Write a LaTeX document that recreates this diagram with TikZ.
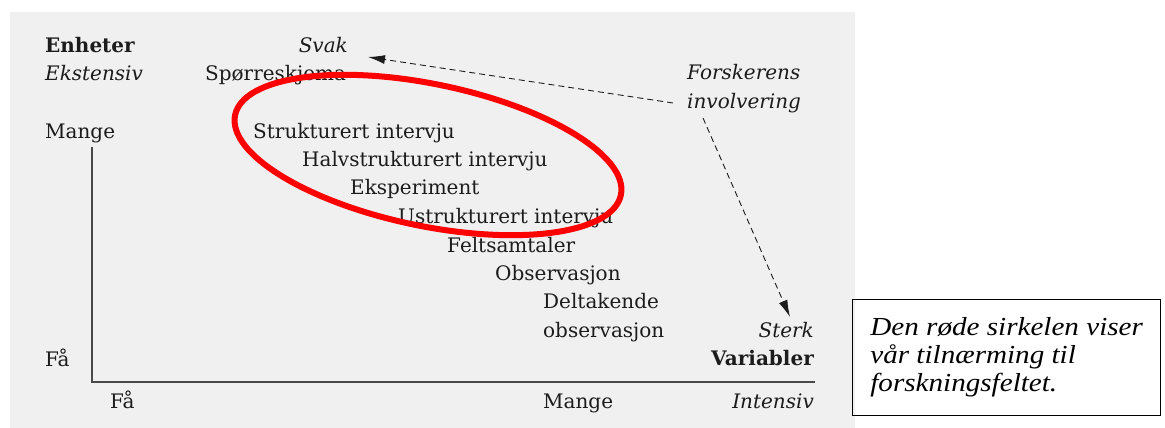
\documentclass[tikz,border=0pt]{standalone}
\usepackage{fontspec}
\setmainfont{DejaVu Serif}
\newfontfamily\notefont[FakeStretch=1.12]{Liberation Serif}
\usetikzlibrary{arrows.meta}
\definecolor{scan}{RGB}{240,240,240}
\definecolor{ink}{RGB}{28,28,28}
\definecolor{ringred}{RGB}{255,0,0}

\begin{document}
\begin{tikzpicture}[x=1pt,y=-1pt,
  lbl/.style={inner sep=0pt, anchor=base west, text=ink, font=\fontsize{20}{23}\selectfont},
  lblr/.style={lbl, anchor=base east},
  it/.style={font=\fontsize{20}{23}\selectfont\itshape},
  bf/.style={font=\fontsize{20}{23}\selectfont\bfseries},
  axisline/.style={draw=ink!80, line width=1.4pt},
  involv/.style={draw=ink, dashed, dash pattern=on 6pt off 4pt, line width=0.9pt,
    -{Latex[length=17pt,width=9pt]}},
  ring/.style={draw=ringred, line width=6pt},
  notebox/.style={draw=black, line width=1.3pt, minimum width=308pt, minimum height=116pt,
    inner sep=0pt, align=left, anchor=north west,
    font=\notefont\itshape\fontsize{26}{28}\selectfont}
]
\useasboundingbox (0,0) rectangle (1165,428);
\fill[scan] (10,12) rectangle (855,428);

% corner labels
\node[lbl, bf] (enheter) at (45,53) {Enheter};
\node[lbl, it] (ekstensiv) at (45,81) {Ekstensiv};
\node[lbl] (mangeY) at (45,138) {Mange};
\node[lbl] (faaY) at (45,366) {Få};
\node[lbl] (faaX) at (110,408) {Få};
\node[lbl] (mangeX) at (543,408) {Mange};
\node[lblr, it] (intensiv) at (814,408) {Intensiv};
\node[lblr, bf] (variabler) at (814,365) {Variabler};
\node[lblr, it] (sterk) at (814,337) {Sterk};
\node[lblr, it] (svak) at (348,53) {Svak};
\node[lbl, it] (forsk1) at (687,80) {Forskerens};
\node[lbl, it] (forsk2) at (687,108) {involvering};

% methods, from extensive to intensive
\node[lbl] (m1) at (205,81) {Spørreskjema};
\node[lbl] (m2) at (253,138) {Strukturert intervju};
\node[lbl] (m3) at (302,166) {Halvstrukturert intervju};
\node[lbl] (m4) at (350,194) {Eksperiment};
\node[lbl] (m5) at (398,223) {Ustrukturert intervju};
\node[lbl] (m6) at (447,252) {Feltsamtaler};
\node[lbl] (m7) at (495,280) {Observasjon};
\node[lbl] (m8) at (543,308) {Deltakende};
\node[lbl] (m9) at (543,337) {observasjon};

% axes
\draw[axisline] (92,147) -- (92,382) -- (815,382);

% researcher involvement arrows
\coordinate (weakEnd) at (368,57);
\coordinate (strongEnd) at (790,317);
\coordinate (invA) at (673,103);
\coordinate (invB) at (703,118);
\draw[involv] (invA) -- (weakEnd);
\draw[involv] (invB) -- (strongEnd);

% red ring
\draw[ring, rotate around={-11.7:(428,155)}] (428,155) ellipse [x radius=197pt, y radius=71pt];

% note
\node[notebox] (note) at (852,299) {Den røde sirkelen viser\\vår tilnærming til\\forskningsfeltet.};
\end{tikzpicture}
\end{document}
